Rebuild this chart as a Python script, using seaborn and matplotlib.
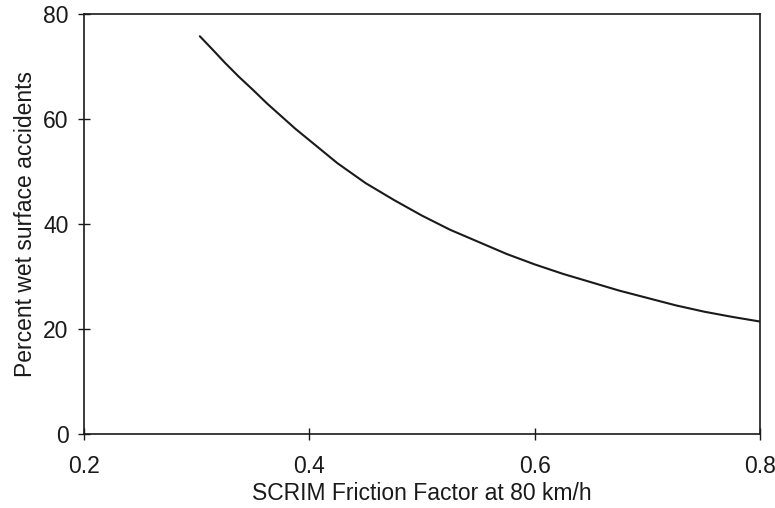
import matplotlib
matplotlib.use("Agg")
import matplotlib.pyplot as plt
import seaborn as sns
import pandas as pd

friction = [0.303, 0.315, 0.325, 0.3375, 0.35, 0.3625, 0.375, 0.3875, 0.4, 0.425, 0.45, 0.475,
            0.5, 0.525, 0.55, 0.575, 0.6, 0.625, 0.65, 0.675, 0.7, 0.725, 0.75, 0.775, 0.8]
pct_wet = [75.8, 73.1, 70.8, 68.1, 65.6, 63.0, 60.6, 58.2, 56.0, 51.6, 47.8, 44.6,
           41.6, 38.9, 36.6, 34.3, 32.3, 30.5, 28.9, 27.3, 25.9, 24.5, 23.3, 22.3, 21.4]
x_ticks = [0.2, 0.4, 0.6, 0.8]
y_ticks = [0, 20, 40, 60, 80]

sns.set_theme(style="white")
plt.rcParams['font.family'] = ['Liberation Sans', 'DejaVu Sans']

df = pd.DataFrame({"x": friction, "y": pct_wet})

fig = plt.figure(figsize=(7.75, 5.08), dpi=100)
ax = fig.add_axes([0.108, 0.146, 0.873, 0.826])
sns.lineplot(data=df, x="x", y="y", ax=ax, color="#1a1a1a", linewidth=1.5)

ax.set_xlim(0.2, 0.8)
ax.set_ylim(0, 80)
ax.set_xticks(x_ticks)
ax.set_xticklabels([f"{t:.1f}" for t in x_ticks])
ax.set_yticks(y_ticks)
ax.set_yticklabels([str(t) for t in y_ticks])
ax.tick_params(axis="both", direction="inout", length=8, width=1.0, colors="#1a1a1a",
               labelsize=16.5, bottom=True, left=True, pad=7)
ax.tick_params(axis="x", pad=11)
for s in ax.spines.values():
    s.set_visible(True)
    s.set_color("#1a1a1a")
    s.set_linewidth(1.2)
ax.set_xlabel("SCRIM Friction Factor at 80 km/h", fontsize=16.5, color="#1a1a1a", labelpad=3)
ax.set_ylabel("Percent wet surface accidents", fontsize=16.5, color="#1a1a1a", labelpad=4)
ax.grid(False)

fig.savefig("out.png", dpi=100)
